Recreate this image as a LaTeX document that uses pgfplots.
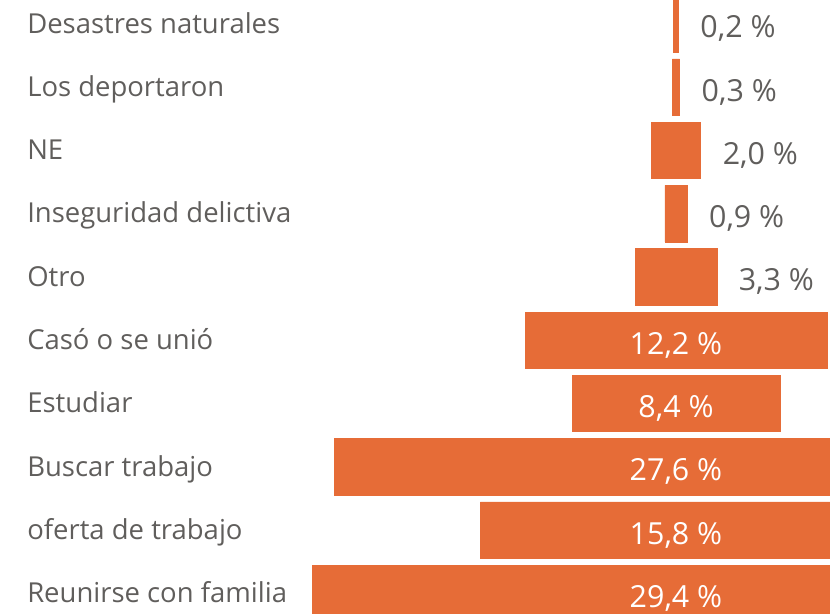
\documentclass[border=0pt]{standalone}
\usepackage{pgfplots}
\pgfplotsset{compat=1.18}
\usepackage{pgfplotstable}
\usepackage{fontspec}
\setmainfont{Open Sans}
\definecolor{barc}{HTML}{E66C37}
\definecolor{txt}{HTML}{605E5C}
\pgfplotstableread{
y v
0 0.2
1 0.3
2 2.0
3 0.9
4 3.3
5 12.2
6 8.4
7 27.6
8 15.8
9 29.4
}\data
\begin{document}
\begin{tikzpicture}
\begin{axis}[
  name=ax,
  scale only axis,
  width=622.5pt, height=460.5pt,
  xmin=-27.313, xmax=6.222,
  ymin=-0.376, ymax=9.324,
  y dir=reverse,
  axis line style={draw=none},
  major tick length=0pt,
  xtick=\empty,
  ytick={0,...,9},
  yticklabels={Desastres naturales, Los deportaron, NE, Inseguridad delictiva, Otro, Casó o se unió, Estudiar, Buscar trabajo, oferta de trabajo, Reunirse con familia},
  yticklabel style={anchor=base west, inner sep=0pt, xshift=20.25pt, yshift=-6.9pt, text=txt, font=\fontsize{20.6pt}{24pt}\selectfont},
  clip=true,
]
\addplot[xbar, bar width=42.3pt, bar shift=0pt, fill=barc, draw=barc, line width=0.45pt] table[x expr=\thisrow{v}/2, y=y]{\data};
\addplot[xbar, bar width=42.3pt, bar shift=0pt, fill=barc, draw=barc, line width=0.45pt] table[x expr=-\thisrow{v}/2, y=y]{\data};
% outside labels
\addplot[draw=none, mark=none, point meta=explicit,
  skip coords between index={5}{10},
  nodes near coords={\pgfmathprintnumber[fixed,fixed zerofill,precision=1,use comma,assume math mode=true]{\pgfplotspointmeta}\ \%},
  nodes near coords style={anchor=base west, inner sep=0pt, xshift=16.3pt, yshift=-10.5pt, text=txt, font=\fontsize{22.8pt}{26pt}\selectfont}]
  table[x expr=\thisrow{v}/2, y=y, meta=v]{\data};
% inside labels
\addplot[draw=none, mark=none, point meta=explicit,
  skip coords between index={0}{5},
  nodes near coords={\pgfmathprintnumber[fixed,fixed zerofill,precision=1,use comma,assume math mode=true]{\pgfplotspointmeta}\ \%},
  nodes near coords style={anchor=base, inner sep=0pt, yshift=-10.5pt, text=white, font=\fontsize{22.8pt}{26pt}\selectfont}]
  table[x expr=0, y=y, meta=v]{\data};
\end{axis}
\pgfresetboundingbox
\useasboundingbox (ax.south west) rectangle (ax.north east);
\end{tikzpicture}
\end{document}
